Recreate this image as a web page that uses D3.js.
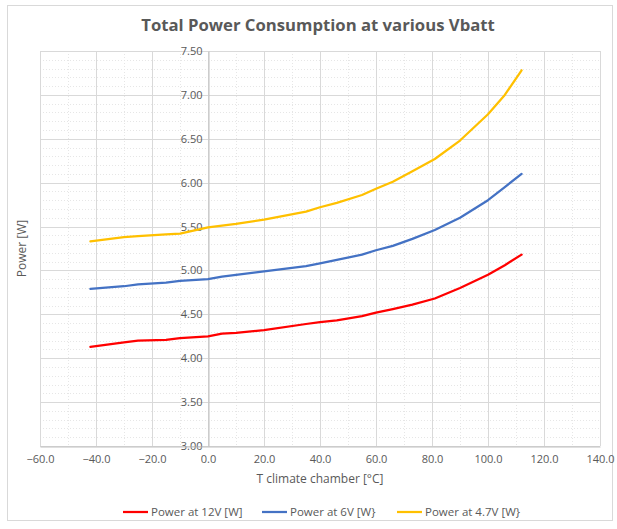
<!DOCTYPE html>
<html>
<head>
<meta charset="utf-8">
<script src="https://cdn.jsdelivr.net/npm/d3@7"></script>
<style>
  body { margin: 0; background: #fff; }
  text { font-family: "Open Sans", "Liberation Sans", sans-serif; fill: #595959; }
</style>
</head>
<body>
<svg id="chart" width="617" height="529"></svg>
<script>
// temperatures [°C]
var temps = [-42, -30, -25, -15, -10, 0, 5, 10, 20, 35, 40, 46, 55, 60, 66, 73, 81, 90, 100, 106, 112];
var power12 = [4.13, 4.18, 4.20, 4.21, 4.23, 4.25, 4.28, 4.29, 4.32, 4.39, 4.41, 4.43, 4.48, 4.52, 4.56, 4.61, 4.68, 4.80, 4.95, 5.06, 5.18];
var power6 = [4.79, 4.82, 4.84, 4.86, 4.88, 4.90, 4.93, 4.95, 4.99, 5.05, 5.08, 5.12, 5.18, 5.23, 5.28, 5.36, 5.46, 5.60, 5.80, 5.95, 6.10];
var power47 = [5.33, 5.38, 5.39, 5.41, 5.42, 5.49, 5.51, 5.53, 5.58, 5.67, 5.72, 5.77, 5.86, 5.93, 6.01, 6.13, 6.27, 6.48, 6.78, 7.00, 7.28];
var seriesNames = ["Power at 12V [W]", "Power at 6V [W}", "Power at 4.7V [W}"];
var xTicks = [-60, -40, -20, 0, 20, 40, 60, 80, 100, 120, 140];
var yTicks = [3.0, 3.5, 4.0, 4.5, 5.0, 5.5, 6.0, 6.5, 7.0, 7.5];

var colors = ["#FF0000", "#4472C4", "#FFC000"];
var series = [power12, power6, power47];

var svg = d3.select('#chart');

// outer chart border
svg.append('rect')
  .attr('x', 7.5).attr('y', 5.5)
  .attr('width', 605).attr('height', 515)
  .attr('fill', 'white')
  .attr('stroke', '#D9D9D9');

var margin = { top: 51, left: 40, bottom: 83, right: 17 };
var width = 617 - margin.left - margin.right;
var height = 529 - margin.top - margin.bottom;

var g = svg.append('g')
  .attr('transform', 'translate(' + margin.left + ',' + margin.top + ')');

var x = d3.scaleLinear().domain([-60, 140]).range([0, width]);
var y = d3.scaleLinear().domain([3, 7.5]).range([height, 0]);

// minor gridlines
var minorX = d3.range(-50, 140, 20);
var minorY = d3.range(3.1, 7.5, 0.1).filter(function (v) { return Math.abs(v * 2 - Math.round(v * 2)) > 0.01; });

g.selectAll('.minor-x').data(minorX).enter().append('line')
  .attr('x1', function (d) { return Math.round(x(d)) + 0.5; })
  .attr('x2', function (d) { return Math.round(x(d)) + 0.5; })
  .attr('y1', 0).attr('y2', height)
  .attr('stroke', '#E6E6E6').attr('stroke-dasharray', '1,2');

g.selectAll('.minor-y').data(minorY).enter().append('line')
  .attr('x1', 0).attr('x2', width)
  .attr('y1', function (d) { return Math.round(y(d)) + 0.5; })
  .attr('y2', function (d) { return Math.round(y(d)) + 0.5; })
  .attr('stroke', '#E6E6E6').attr('stroke-dasharray', '1,2');

// major gridlines
g.selectAll('.major-x').data(xTicks).enter().append('line')
  .attr('x1', function (d) { return Math.round(x(d)) + 0.5; })
  .attr('x2', function (d) { return Math.round(x(d)) + 0.5; })
  .attr('y1', 0).attr('y2', height)
  .attr('stroke', '#D9D9D9');

g.selectAll('.major-y').data(yTicks).enter().append('line')
  .attr('x1', 0).attr('x2', width)
  .attr('y1', function (d) { return Math.round(y(d)) + 0.5; })
  .attr('y2', function (d) { return Math.round(y(d)) + 0.5; })
  .attr('stroke', '#D9D9D9');

// y axis sits at x = 0
var yAxis = d3.axisLeft(y).tickValues(yTicks).tickFormat(d3.format('.2f')).tickSize(0).tickPadding(6);
g.append('g')
  .attr('transform', 'translate(' + (Math.round(x(0)) + 0.5) + ',0)')
  .call(yAxis)
  .call(function (s) {
    s.select('.domain').attr('stroke', '#BFBFBF');
    s.selectAll('text').attr('font-size', '11px').attr('font-family', '"Open Sans", sans-serif').attr('fill', '#595959');
  });

var xAxis = d3.axisBottom(x).tickValues(xTicks).tickFormat(d3.format('.1f')).tickSize(0).tickPadding(9);
g.append('g')
  .attr('transform', 'translate(0,' + (Math.round(height) + 0.5) + ')')
  .call(xAxis)
  .call(function (s) {
    s.select('.domain').attr('stroke', '#BFBFBF');
    s.selectAll('text').attr('font-size', '11px').attr('font-family', '"Open Sans", sans-serif').attr('fill', '#595959');
  });

// lines
var line = d3.line()
  .x(function (d, i) { return x(temps[i]); })
  .y(function (d) { return y(d); });

series.forEach(function (s, i) {
  g.append('path')
    .datum(s)
    .attr('d', line)
    .attr('fill', 'none')
    .attr('stroke', colors[i])
    .attr('stroke-width', 2.25)
    .attr('stroke-linejoin', 'round')
    .attr('stroke-linecap', 'round');
});

// title
svg.append('text')
  .attr('x', 318)
  .attr('y', 31)
  .attr('text-anchor', 'middle')
  .attr('font-size', '16.7px')
  .attr('font-weight', 'bold')
  .text('Total Power Consumption at various Vbatt');

// axis titles
svg.append('text')
  .attr('x', 320)
  .attr('y', 483)
  .attr('text-anchor', 'middle')
  .attr('font-size', '12px')
  .text('T climate chamber [°C]');

svg.append('text')
  .attr('transform', 'translate(26,' + (margin.top + height / 2) + ') rotate(-90)')
  .attr('text-anchor', 'middle')
  .attr('font-size', '12px')
  .text('Power [W]');

// legend
var legendX = [123, 262, 397];
var legend = svg.append('g').attr('transform', 'translate(0,512)');
seriesNames.forEach(function (name, i) {
  legend.append('line')
    .attr('x1', legendX[i]).attr('x2', legendX[i] + 25)
    .attr('y1', 0).attr('y2', 0)
    .attr('stroke', colors[i]).attr('stroke-width', 2.25);
  legend.append('text')
    .attr('x', legendX[i] + 28)
    .attr('y', 4)
    .attr('font-size', '11.5px')
    .text(name);
});
</script>
</body>
</html>
